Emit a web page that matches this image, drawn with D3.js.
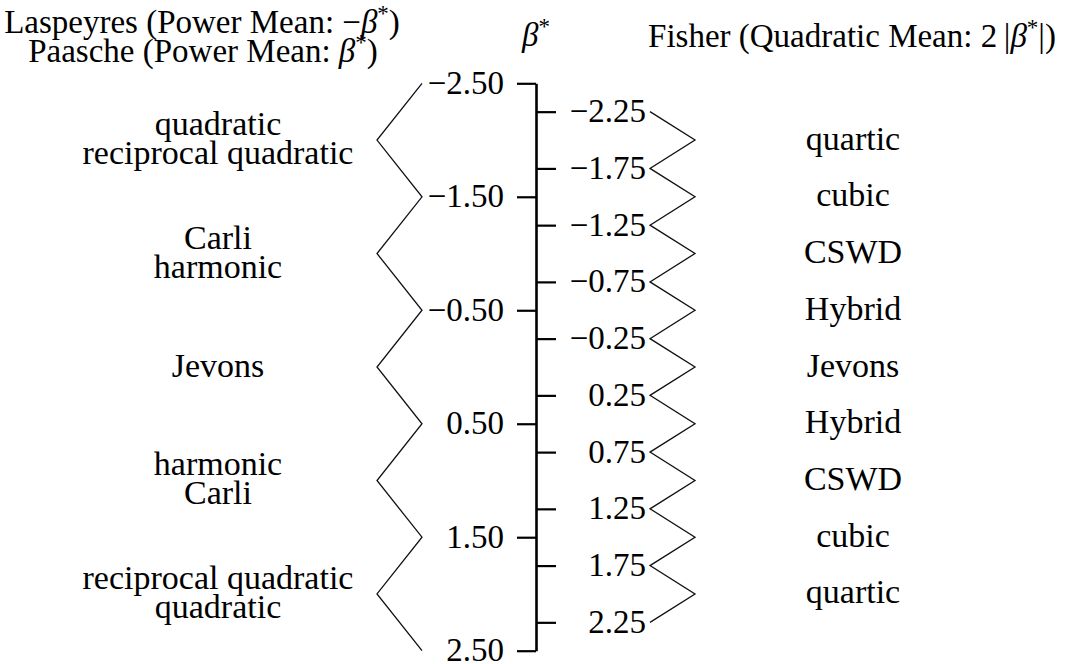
<!DOCTYPE html>
<html>
<head>
<meta charset="utf-8">
<script src="https://cdn.jsdelivr.net/npm/d3@7"></script>
<style>
  body { margin: 0; background: #fff; }
  text { font-family: "Liberation Serif", "DejaVu Serif", serif; fill: #000; }
</style>
</head>
<body>
<div id="chart"></div>
<script>
// beta* tick values
const betaMajor = [-2.5, -1.5, -0.5, 0.5, 1.5, 2.5];
const betaMinor = [-2.25, -1.75, -1.25, -0.75, -0.25, 0.25, 0.75, 1.25, 1.75, 2.25];

// Laspeyres / Paasche side
const leftValues = [-2, -1, 0, 1, 2];
const leftLabels = [
  ["quadratic", "reciprocal quadratic"],
  ["Carli", "harmonic"],
  ["Jevons"],
  ["harmonic", "Carli"],
  ["reciprocal quadratic", "quadratic"]
];

// Fisher side
const rightValues = [-2, -1.5, -1, -0.5, 0, 0.5, 1, 1.5, 2];
const rightLabels = ["quartic", "cubic", "CSWD", "Hybrid", "Jevons", "Hybrid", "CSWD", "cubic", "quartic"];

const W = 1075, H = 664;
const fs = 34;
const axisX = 536;
const lineGap = 29;

const svg = d3.select('#chart').append('svg')
  .attr('width', W)
  .attr('height', H);

const y = d3.scaleLinear()
  .domain([-2.5, 2.5])
  .range([83.3, 650.7]);

const fmt = d3.format('.2f');

// left axis (major ticks + domain)
const gl = svg.append('g')
  .attr('transform', `translate(${axisX},0)`)
  .call(d3.axisLeft(y).tickValues(betaMajor).tickFormat(fmt)
    .tickSize(19).tickSizeOuter(0).tickPadding(13));

// right axis (minor ticks)
const gr = svg.append('g')
  .attr('transform', `translate(${axisX},0)`)
  .call(d3.axisRight(y).tickValues(betaMinor).tickFormat(fmt)
    .tickSize(20).tickSizeOuter(0));
gr.select('.domain').remove();
gr.selectAll('.tick text')
  .attr('text-anchor', 'end')
  .attr('x', 110);

svg.selectAll('.domain').attr('stroke', '#000').attr('stroke-width', 2.6);
svg.selectAll('.tick line').attr('stroke', '#000').attr('stroke-width', 2.2);
svg.selectAll('.tick text')
  .attr('font-family', '"Liberation Serif", serif')
  .attr('font-size', 33)
  .attr('dy', '0.3em')
  .attr('fill', '#000');

// zigzag connectors
const zig = (anchors, apexes, xAnchor, xApex) => {
  const pts = anchors.map(v => ({ v, x: xAnchor }))
    .concat(apexes.map(v => ({ v, x: xApex })))
    .sort((a, b) => a.v - b.v);
  return d3.line().x(d => d.x).y(d => y(d.v))(pts);
};

svg.append('path')
  .attr('d', zig(betaMajor, leftValues, 422, 377))
  .attr('fill', 'none')
  .attr('stroke', '#111')
  .attr('stroke-width', 1.3);

svg.append('path')
  .attr('d', zig(betaMinor, rightValues, 650, 695))
  .attr('fill', 'none')
  .attr('stroke', '#111')
  .attr('stroke-width', 1.3);

// category labels
const drawLabels = (values, labels, cx) => {
  values.forEach((v, i) => {
    const lines = [].concat(labels[i]);
    const n = lines.length;
    const t = svg.append('text')
      .attr('text-anchor', 'middle')
      .attr('font-size', fs);
    lines.forEach((s, j) => {
      t.append('tspan')
        .attr('x', cx)
        .attr('y', y(v) + 9.5 + (j - (n - 1) / 2) * lineGap)
        .text(s);
    });
  });
};
drawLabels(leftValues, leftLabels, 218);
drawLabels(rightValues, rightLabels, 853);

// headers
const header = (x, yy, parts) => {
  const t = svg.append('text')
    .attr('x', x).attr('y', yy)
    .attr('text-anchor', 'middle')
    .attr('font-size', 33);
  parts.forEach(p => {
    const ts = t.append('tspan').text(p.s);
    if (p.it) ts.attr('font-style', 'italic');
    if (p.sup) ts.attr('font-size', 23).attr('dy', -12);
    if (p.down) ts.attr('dy', 12);
  });
};

header(202, 33, [
  { s: 'Laspeyres (Power Mean: \u2212' },
  { s: '\u03b2', it: true },
  { s: '*', sup: true },
  { s: ')', down: true }
]);
header(203, 62, [
  { s: 'Paasche (Power Mean: ' },
  { s: '\u03b2', it: true },
  { s: '*', sup: true },
  { s: ')', down: true }
]);
header(axisX, 46, [
  { s: '\u03b2', it: true },
  { s: '*', sup: true }
]);
header(852, 47, [
  { s: 'Fisher (Quadratic Mean: 2\u2009|' },
  { s: '\u03b2', it: true },
  { s: '*', sup: true },
  { s: '|)', down: true }
]);
</script>
</body>
</html>
